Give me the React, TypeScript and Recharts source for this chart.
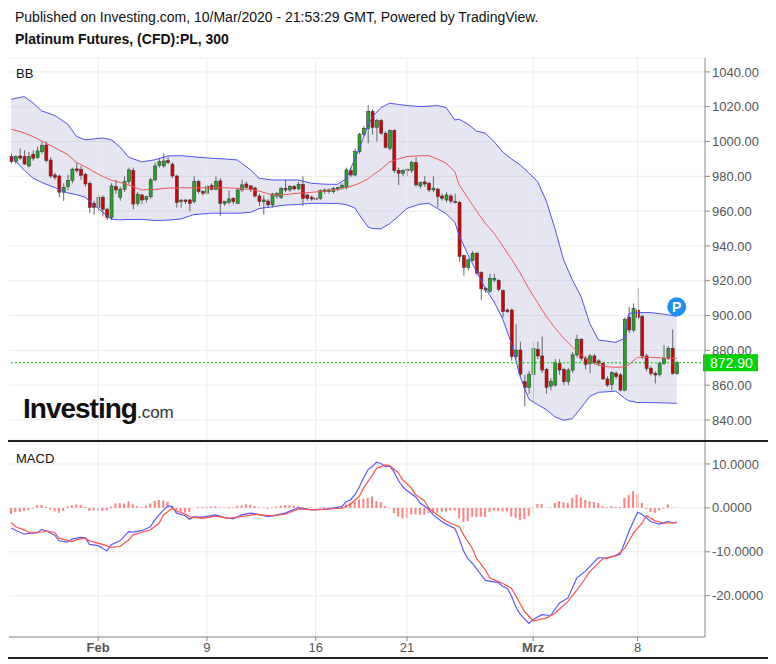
import React from "react";
import {
  ComposedChart,
  Bar,
  Line,
  Area,
  XAxis,
  YAxis,
  CartesianGrid,
  ReferenceLine,
  ReferenceDot,
} from "recharts";

// 5h-Kerzen Platin: [open, high, low, close]
const candles: [number, number, number, number][] = [
  [991.5, 993, 987.5, 988.5], [988.5, 992, 987, 991.4], [991.7, 996, 989.5, 990.5], [991.4, 995, 986.5, 987.1],
  [986, 994, 985, 991.4], [992.7, 995, 989, 990.4], [990.8, 997, 990, 994.6], [994.2, 1000, 993, 997.7],
  [998, 1000, 988, 989], [989.4, 991, 979, 980.2], [980.8, 982, 978, 979.5], [980.2, 981, 968, 970.9],
  [970.9, 976, 965.9, 973.7], [974.1, 981, 972, 977.6], [977.6, 985, 976, 984.1], [984.3, 988, 982, 983.3],
  [984.1, 986, 978, 980.6], [981.2, 982, 974, 975.6], [976, 977, 959, 962.2], [964.5, 966, 958, 962.2],
  [962.2, 970, 960, 968], [968, 969, 957, 961.1], [961.1, 962, 955, 956.5], [956.3, 976, 955, 974.5],
  [974.1, 978, 970, 972.2], [968, 974, 966, 972.6], [972.6, 980, 971, 977], [977, 985, 975, 983.7],
  [983.3, 985, 961, 964.1], [964.5, 971, 963, 969.7], [969.3, 970, 964, 966.4], [966.8, 969, 965, 968.3],
  [968.3, 979, 967, 978], [978, 988, 977, 986], [986.4, 990, 985, 988.5], [986, 993, 985, 988.8],
  [989, 991, 987, 987.9], [987, 988, 979, 980.2], [980.2, 981, 962, 964.9], [965.5, 967, 962, 966.3],
  [966.4, 967, 964, 965.5], [966.4, 967, 960, 964.5], [965.5, 980, 964.5, 977], [977, 978, 970, 971.2],
  [971.2, 972, 969, 970.3], [970.3, 975, 969.5, 974.1], [974.7, 976, 972, 972.6], [972.6, 980, 972, 977],
  [977.4, 979, 957.2, 964.5], [964.5, 966, 963, 965.5], [965.1, 972, 964, 967], [967.4, 968, 964, 965.5],
  [964.5, 973, 964, 972.2], [972.2, 978, 971, 975.1], [975.6, 977, 973, 973.7], [974.5, 975, 971, 972.6],
  [973.3, 974, 968, 968.7], [968.7, 970, 963, 965.5], [965.5, 969, 958, 966.4], [965.8, 967, 962, 963.6],
  [963.6, 970.5, 962, 969.9], [968.7, 971, 967, 970.1], [968, 974, 967, 973], [973.1, 978, 971, 972.2],
  [972.2, 975, 971, 974.1], [974.1, 975, 972, 972.8], [972.8, 977, 972, 975.4], [975.4, 980, 963, 967.4],
  [969.3, 970, 966, 967.4], [968, 969, 966, 967], [967.4, 968, 966.5, 967], [967.4, 972.5, 966.5, 971.8],
  [971.2, 973, 970, 972.2], [971.2, 973, 970, 972.2], [971.2, 974, 970, 973.1], [972.6, 974, 971.5, 973.5],
  [973.5, 976, 972.5, 974.9], [973.5, 985, 972.5, 983.7], [983.3, 985, 979.5, 980.8], [980.8, 996, 980, 994.2],
  [994.2, 1005, 993, 1004.2], [1004.2, 1009, 1003, 1007.6], [1007.6, 1021, 999, 1017.2], [1017.2, 1018.5, 1004, 1008.2],
  [1008.2, 1013, 1000, 1012], [1012, 1013, 1004, 1004.8], [1004.8, 1006, 996, 996.7], [996.1, 1007, 995, 1006.3],
  [1006.3, 1007, 982, 983.3], [983.3, 985, 975, 981.8], [981.8, 984, 980, 983.3], [984, 985, 980, 983.3],
  [983.3, 989, 982, 987.9], [987.9, 991, 974, 975.1], [974.5, 977, 973, 976.4], [976.8, 980, 974, 975.6],
  [976, 977, 971, 972.2], [972.2, 980, 971, 973.2], [972.6, 973.5, 962, 968.4], [968.7, 970, 966, 967.4],
  [966.4, 971, 965, 969.3], [968.7, 970, 964.5, 965.8], [965.5, 970, 964.5, 965.1], [965.1, 966, 931, 933.9],
  [934.5, 935, 923, 927.7], [927.7, 933, 926, 932], [931.8, 937, 931, 935.8], [935.8, 936.5, 923.5, 924.3],
  [924.7, 925.5, 909, 915.3], [915.6, 916.5, 913, 914.7], [914, 924, 913, 921.4], [920.4, 924, 919, 921.4],
  [920.2, 921, 914, 915.1], [914.3, 915, 899, 902.3], [903.2, 904, 901.5, 902.3], [903.2, 904, 874, 876.4],
  [876.4, 895, 875, 880.2], [880.2, 885, 865, 866.4], [862, 866, 848, 858.8], [858.8, 868, 855, 866.2],
  [866.2, 885, 850, 881.2], [880.6, 885, 875, 876.8], [876.8, 888, 867, 868.7], [869.1, 870, 855, 858.8],
  [859.5, 864, 857, 862], [860.1, 875, 859, 872.9], [872.6, 875, 866, 868.7], [869.1, 870, 860, 862],
  [862, 870, 860, 868.7], [868.7, 879, 867, 877.4], [877.4, 889, 876, 886.4], [886.4, 887, 874, 875.4],
  [875.4, 877, 869, 872], [872.4, 878, 867, 876.8], [876.8, 878, 872, 873], [873.9, 875, 871, 872.6],
  [872.6, 873.5, 863, 863.6], [863.6, 865, 859, 860.1], [860.5, 868, 857, 867.2], [866.8, 868, 863.5, 864.9],
  [865.9, 867, 856.5, 857.2], [857.2, 899, 856.5, 897.8], [899, 905, 890, 891.7], [891.7, 907, 890.5, 904.2],
  [903.2, 915.7, 897.5, 898.8], [899.4, 900.5, 875, 876.8], [876.8, 878, 868, 869.7], [869.7, 871, 865.5, 866.8],
  [866.8, 868, 861, 865.9], [866.2, 873.5, 865, 872.6], [872.6, 883, 871.5, 875.4], [875.4, 882.5, 874.5, 881.2],
  [881.2, 892, 866, 866.8], [866.8, 874, 866, 872.9],
];

const bbAt = [
  1, 4, 6, 8, 11, 14, 16, 18, 20, 22, 24, 26, 28, 31, 34, 37, 40, 43, 47, 50, 53, 56, 58, 61, 64, 67, 70, 73, 76, 78,
  80, 81, 83, 84, 86, 88, 90, 92, 95, 97, 99, 101, 103, 104, 106, 108, 110, 112, 114, 116, 118, 120, 122, 124, 126,
  128, 130, 132, 134, 136, 138, 140, 142, 143, 145, 148, 151, 154,
];
const bbUpper = [
  1024.3, 1025.8, 1022.2, 1017.6, 1015, 1010, 1003, 1001, 1001.5, 1002, 1001, 997, 991, 988.3, 989.5, 991.7, 991.9,
  991.2, 990.4, 990, 989.4, 983.7, 978.9, 977.9, 977.9, 977.9, 976, 975.5, 975.4, 978.5, 990, 996, 1009, 1014, 1019.5,
  1022, 1021.3, 1020.7, 1020.1, 1020.3, 1020.7, 1019.5, 1012.4, 1012.8, 1010, 1006, 1004.8, 1000, 994, 990, 986.6, 982,
  977, 966, 950, 932, 920.5, 911, 895.5, 886, 885.3, 884.6, 887, 901.3, 901.7, 901.7, 900.8, 899.6,
];
const bbMid = [
  1007.1, 1005, 1002.9, 1000.3, 996.5, 992.5, 988, 985.5, 982.7, 980, 977.8, 976.5, 975, 972.2, 972.5, 973.2, 973.5,
  973.3, 973.5, 973.5, 973.1, 972.5, 971.5, 969.3, 969.5, 970.3, 970.8, 971.5, 972.5, 973.5, 975, 976, 978.5, 980.5,
  984, 988.3, 990, 991.4, 991.8, 991.9, 989.9, 987.5, 982.7, 975, 967.5, 960, 953, 947.3, 940, 932.5, 924.5, 915.5,
  907.5, 899.5, 893, 887, 882, 877.5, 873.5, 871.4, 870.6, 870.3, 870.5, 871.8, 876, 876, 875.6, 875.4,
];
const bbLower = [
  991.7, 983.5, 979, 976.5, 973.5, 970.5, 969.5, 968, 963.6, 959.5, 955.3, 955, 955.2, 955.3, 954.6, 954.8, 955.5, 958,
  958.8, 958.8, 958.8, 959.3, 961.5, 962.5, 963.5, 963.8, 964.5, 964.5, 964.4, 963.8, 961.8, 958, 951, 950, 949.8,
  952.8, 957, 961.6, 964, 964.5, 961.5, 958.5, 953.5, 946, 935, 925, 915.5, 908, 898, 884, 865, 852, 848.8, 846, 841.8,
  839.8, 840.8, 847, 853.5, 855.9, 856.2, 856.6, 852.5, 851, 850, 850, 849.8, 849.6,
];

// MACD-Linie und Signallinie
const macdAt = [
  1, 2, 4, 5, 7, 8, 9, 11, 12, 14, 15, 17, 18, 19, 21, 22, 23, 24, 26, 28, 29, 31, 33, 34, 35, 36, 37, 38, 39, 41, 42,
  43, 45, 48, 50, 52, 54, 56, 57, 60, 64, 67, 70, 74, 77, 78, 79, 80, 81, 82, 83, 84, 85, 86, 87, 88, 89, 90, 91, 92,
  94, 95, 97, 98, 100, 101, 103, 104, 105, 106, 107, 109, 110, 113, 114, 115, 116, 117, 118, 120, 121, 123, 125, 127,
  129, 131, 133, 136, 138, 140, 141, 143, 145, 146, 148, 150, 152, 153, 154,
];
const macdLine = [
  -4.6, -5.1, -6.0, -5.8, -5.7, -4.9, -5.2, -6.2, -7.5, -7.8, -7.1, -6.7, -6.8, -8.3, -8.6, -9.2, -9.8, -8.4, -7.5,
  -5.4, -5.5, -5.2, -4.3, -2.8, -1.6, -0.5, 0.45, 0.3, -1.2, -1.8, -2.6, -2.05, -2.1, -1.6, -2.2, -2.5, -1.6, -1.2,
  -1.3, -2.0, -1.2, 0.07, -0.46, -0.23, 0.3, 1.4, 1.8, 3.0, 4.7, 6.8, 8.65, 9.4, 10.4, 10.1, 9.4, 9.56, 8.2, 6.3, 4.8,
  3.9, 2.5, 1.1, -0.3, -1.6, -3.1, -3.7, -4.7, -7.0, -9.8, -11.6, -12.6, -15.2, -16.5, -17.0, -17.9, -18.3, -20.0,
  -22.5, -24.2, -26.3, -25.4, -24.3, -24.5, -21.7, -20.5, -16.0, -14.4, -11.3, -11.5, -10.8, -10.6, -5.4, -1.0, -1.45,
  -3.1, -3.7, -3.1, -3.5, -3.3,
];
const signalAt = [
  1, 2, 4, 5, 8, 9, 11, 12, 15, 16, 18, 19, 22, 24, 26, 28, 29, 31, 33, 35, 36, 38, 39, 41, 42, 45, 48, 51, 55, 57,
  61, 64, 67, 71, 77, 79, 81, 82, 84, 85, 87, 88, 90, 91, 93, 94, 96, 97, 99, 101, 102, 104, 105, 107, 108, 110, 111,
  113, 114, 116, 117, 119, 121, 124, 126, 129, 132, 134, 137, 140, 142, 144, 146, 147, 149, 151, 154,
];
const signalLine = [
  -3.3, -4.3, -5.0, -5.5, -5.55, -5.25, -5.6, -6.9, -7.7, -7.3, -6.9, -7.5, -8.3, -9.0, -8.8, -7.3, -6.15, -5.55,
  -5.0, -3.5, -1.6, -0.1, -0.7, -1.45, -2.05, -2.4, -1.9, -2.4, -1.8, -1.5, -1.83, -1.45, -0.23, -0.46, -0.08, 0.83,
  2.6, 4.5, 7.4, 9.0, 9.8, 9.64, 8.0, 6.4, 4.5, 3.0, 1.6, -0.08, -1.6, -3.0, -3.5, -4.3, -6.15, -9.2, -11.5, -14.1,
  -15.9, -16.8, -17.2, -18.3, -20.0, -23.6, -25.7, -25.1, -24.0, -21.3, -17.5, -14.5, -11.6, -10.9, -9.3, -5.8, -3.5,
  -1.8, -2.9, -3.5, -3.3,
];
// Histogramm, eine Säule pro Kerze
const histogram = [
  -1.4, -0.9, -0.9, -0.7, -0.5, -0.2, 0.6, 0.7, 0.2, -0.4,
  -0.8, -1.1, -0.7, 0.3, 0.6, 0.8, 0.7, 0.2, -0.7, -0.6,
  -0.7, -0.7, -0.6, 0.3, 1.0, 1.1, 1.0, 1.5, 0.8, 0.4,
  0.2, 0.5, 1.0, 1.6, 1.8, 1.7, 1.4, 0.5, -0.6, -1.0,
  -1.1, -0.9, 0, 0.2, 0.2, 0.3, 0.3, 0.4, 0.1, 0.1,
  0.2, 0.1, 0.5, 0.6, 0.8, 0.7, 0.4, 0.1, 0.1, -0.2,
  0.1, 0.3, 0.5, 0.6, 0.6, 0.5, 0.3, 0.1, -0.1, 0.1,
  0.1, 0.1, 0.2, 0.2, 0.1, 0.2, 0.4, 0.8, 1.2, 1.5,
  1.8, 2.1, 2.3, 2.6, 1.5, 1.3, 0.4, -0.1, -1.2, -2.0,
  -2.4, -2.3, -1.5, -1.5, -1.6, -1.6, -1.2, -1.1, -1.0, -0.9,
  -0.8, -0.6, -0.6, -2.4, -3.2, -3.0, -2.0, -2.1, -2.0, -2.1,
  -0.9, -0.6, -0.8, -0.8, -0.8, -2.0, -2.3, -2.8, -2.5, -1.9,
  0.2, 0.9, 0.9, 0, 0.1, 1.1, 1.5, 1.3, 1.1, 2.3,
  3.0, 2.4, 1.8, 1.5, 1.3, 1.1, 0.4, 0.2, 0.4, 0.2,
  0.2, 2.3, 2.9, 3.8, 3.2, 1.1, -0.2, -0.9, -1.1, -0.6,
  -0.2, 0.8, 0.1, 0.05,
];

const dateTicks = [21, 46, 71, 92, 121, 145];
const dateLabels = ["Feb", "9", "16", "21", "Mrz", "8"];
const monthLabels = ["Feb", "Mrz"];
const priceTicks = [840, 860, 880, 900, 920, 940, 960, 980, 1000, 1020, 1040];
const macdTicks = [10, 0, -10, -20];
const lastPrice = 872.9;
const pMarker = { at: 154, price: 905 };
const SLOTS = 160; // Kerzen plus Leerraum rechts

const FONT = '"Liberation Sans", Arial, sans-serif';

const rows = Array.from({ length: SLOTS }, (_, k) => {
  const i = k + 1;
  const row: Record<string, any> = { i };
  const c = candles[k];
  if (c) {
    row.ohlc = c;
    row.hl = [c[2], c[1]];
    row.hist = histogram[k];
  }
  const b = bbAt.indexOf(i);
  if (b >= 0) {
    row.upper = bbUpper[b];
    row.mid = bbMid[b];
    row.lower = bbLower[b];
    row.band = [bbLower[b], bbUpper[b]];
  }
  const m = macdAt.indexOf(i);
  if (m >= 0) row.macd = macdLine[m];
  const s = signalAt.indexOf(i);
  if (s >= 0) row.signal = signalLine[s];
  return row;
});

function Candle(props: any) {
  const { x, y, width, height, payload } = props;
  if (!payload || !payload.ohlc) return null;
  const [o, h, l, c] = payload.ohlc;
  const top = Math.min(y, y + height);
  const bot = Math.max(y, y + height);
  const px = (v: number) => top + ((h - v) / (h - l)) * (bot - top);
  const up = c >= o;
  const bTop = px(Math.max(o, c));
  const bBot = px(Math.min(o, c));
  const cx = x + width / 2;
  return (
    <g>
      <line x1={cx} x2={cx} y1={top} y2={bot} stroke="#666" strokeWidth={1} />
      <rect
        x={x}
        y={bTop}
        width={width}
        height={Math.max(1, bBot - bTop)}
        fill={up ? "#1faa1f" : "#d90000"}
        stroke="#3a3a3a"
        strokeWidth={0.6}
      />
    </g>
  );
}

function PriceLabel(props: any) {
  const { viewBox } = props;
  const right = viewBox.x + viewBox.width;
  return (
    <g>
      <rect x={right - 2} y={viewBox.y - 8.5} width={55} height={17} fill="#00d400" />
      <text x={right + 5} y={viewBox.y + 5} fill="#fff" fontSize={14} fontFamily={FONT}>
        {lastPrice.toFixed(2)}
      </text>
    </g>
  );
}

function PDot(props: any) {
  const { cx, cy } = props;
  return (
    <g>
      <circle cx={cx} cy={cy} r={9.5} fill="#1e90f0" />
      <text x={cx} y={cy + 5} textAnchor="middle" fill="#fff" fontSize={14} fontWeight="bold" fontFamily={FONT}>
        P
      </text>
    </g>
  );
}

function DateTick(props: any) {
  const { x, y, payload } = props;
  const label = dateLabels[dateTicks.indexOf(payload.value)];
  return (
    <text
      x={x}
      y={y}
      dy="0.71em"
      textAnchor="middle"
      fill="#555"
      fontSize={13}
      fontFamily={FONT}
      fontWeight={monthLabels.includes(label) ? "bold" : "normal"}
    >
      {label}
    </text>
  );
}

const axisTick = { fill: "#555", fontSize: 13, fontFamily: FONT };

export default function App() {
  return (
    <div style={{ position: "relative", width: 776, height: 664, background: "#fff", fontFamily: FONT }}>
      <style>{`body{margin:0}`}</style>
      <div style={{ position: "absolute", left: 15, top: 9, fontSize: 14, color: "#111" }}>
        Published on Investing.com, 10/Mar/2020 - 21:53:29 GMT, Powered by TradingView.
      </div>
      <div style={{ position: "absolute", left: 15, top: 31, fontSize: 14, fontWeight: "bold", color: "#111" }}>
        Platinum Futures, (CFD):PL, 300
      </div>

      <div style={{ position: "absolute", left: 0, top: 0 }}>
        <ComposedChart width={776} height={441} data={rows} margin={{ top: 58, right: 0, bottom: 1, left: 9 }}>
          <CartesianGrid vertical={false} stroke="#ececec" />
          <XAxis dataKey="i" type="category" hide />
          <YAxis
            orientation="right"
            width={71}
            domain={[828.5, 1048]}
            ticks={priceTicks}
            interval={0}
            allowDataOverflow
            tickFormatter={(v) => v.toFixed(2)}
            tick={axisTick}
            tickSize={5}
            tickMargin={2}
            axisLine={{ stroke: "#888" }}
            tickLine={{ stroke: "#888" }}
          />
          {dateTicks.map((t) => (
            <ReferenceLine key={t} x={t} stroke="#ececec" />
          ))}
          <Area
            dataKey="band"
            stroke="none"
            fill="#9a9ad0"
            fillOpacity={0.25}
            connectNulls
            isAnimationActive={false}
          />
          <Line dataKey="upper" stroke="#5050f0" strokeWidth={1} dot={false} connectNulls isAnimationActive={false} />
          <Line dataKey="lower" stroke="#5050f0" strokeWidth={1} dot={false} connectNulls isAnimationActive={false} />
          <Line dataKey="mid" stroke="#f05555" strokeWidth={1} dot={false} connectNulls isAnimationActive={false} />
          <Bar dataKey="hl" barSize={3} shape={Candle} isAnimationActive={false} />
          <ReferenceLine y={lastPrice} stroke="#00c000" strokeDasharray="2 2" label={PriceLabel} />
          <ReferenceDot x={pMarker.at} y={pMarker.price} shape={PDot} />
        </ComposedChart>
      </div>

      <div style={{ position: "absolute", left: 0, top: 441 }}>
        <ComposedChart width={776} height={223} data={rows} margin={{ top: 1, right: 0, bottom: 6, left: 9 }}>
          <CartesianGrid vertical={false} stroke="#ececec" />
          <XAxis
            dataKey="i"
            type="category"
            ticks={dateTicks}
            interval={0}
            tick={DateTick}
            height={21}
            tickSize={4}
            tickMargin={2}
            axisLine={{ stroke: "#888" }}
            tickLine={{ stroke: "#888" }}
          />
          <YAxis
            orientation="right"
            width={71}
            domain={[-29.4, 15]}
            ticks={macdTicks}
            interval={0}
            allowDataOverflow
            tickFormatter={(v) => v.toFixed(4)}
            tick={axisTick}
            tickSize={5}
            tickMargin={2}
            axisLine={{ stroke: "#888" }}
            tickLine={{ stroke: "#888" }}
          />
          {dateTicks.map((t) => (
            <ReferenceLine key={t} x={t} stroke="#ececec" />
          ))}
          <Bar dataKey="hist" barSize={2} fill="#ff6b6b" fillOpacity={0.85} isAnimationActive={false} />
          <Line dataKey="macd" stroke="#5a5aff" strokeWidth={1.2} dot={false} connectNulls isAnimationActive={false} />
          <Line dataKey="signal" stroke="#ff5050" strokeWidth={1.2} dot={false} connectNulls isAnimationActive={false} />
        </ComposedChart>
      </div>

      <div style={{ position: "absolute", left: 16, top: 66, fontSize: 13, color: "#111" }}>BB</div>
      <div style={{ position: "absolute", left: 16, top: 451, fontSize: 13, color: "#111" }}>MACD</div>
      <div style={{ position: "absolute", left: 8, top: 440, width: 760, height: 2, background: "#222" }} />
      <div style={{ position: "absolute", left: 8, top: 657, width: 760, height: 2, background: "#222" }} />
      <div style={{ position: "absolute", left: 23, top: 393, whiteSpace: "nowrap", color: "#111" }}>
        <span style={{ fontSize: 28, fontWeight: "bold", letterSpacing: -1 }}>Investing</span>
        <span style={{ fontSize: 17, color: "#333" }}>.com</span>
      </div>
    </div>
  );
}
